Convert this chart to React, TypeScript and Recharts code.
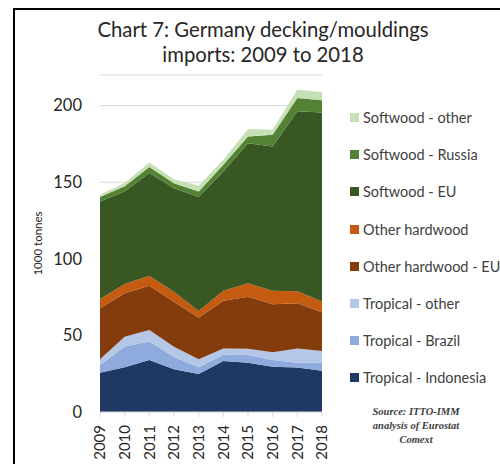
import React from 'react';
import { AreaChart, Area, XAxis, YAxis, CartesianGrid, Legend } from 'recharts';

const years = ['2009', '2010', '2011', '2012', '2013', '2014', '2015', '2016', '2017', '2018'];

// 1000 tonnes
const tropicalIndonesia = [25.7, 29.2, 34, 27.9, 24.8, 33.3, 32.2, 29.6, 29, 27];
const tropicalBrazil = [5, 13.5, 12, 8, 4.4, 4, 5, 4.4, 3.2, 5.2];
const tropicalOther = [3.7, 6.5, 7.6, 6.7, 5.2, 4.1, 4.1, 5, 9.2, 7.7];
const otherHardwoodEU = [33.4, 28.4, 28.8, 29.4, 27.2, 31.3, 34, 31.4, 29.6, 25.3];
const otherHardwood = [5.9, 5.9, 6.5, 6.5, 4.4, 6.4, 8.7, 8.7, 7.9, 6.9];
const softwoodEU = [63.8, 60.5, 67.1, 67.6, 74.3, 77.9, 91.5, 94.3, 117.4, 123.5];
const softwoodRussia = [2.8, 3.3, 3.9, 3.3, 3.7, 4.4, 4.3, 7.6, 8.7, 7.9];
const softwoodOther = [1.5, 2.2, 3, 2.6, 3.7, 3.3, 4.9, 3.3, 5.5, 5.2];

const yTicks = [0, 50, 100, 150, 200];

const series = [
  { key: 'Tropical - Indonesia', values: tropicalIndonesia, color: '#203864' },
  { key: 'Tropical - Brazil', values: tropicalBrazil, color: '#8faadc' },
  { key: 'Tropical - other', values: tropicalOther, color: '#b4c7e7' },
  { key: 'Other hardwood - EU', values: otherHardwoodEU, color: '#843c0c' },
  { key: 'Other hardwood', values: otherHardwood, color: '#c55a11' },
  { key: 'Softwood - EU', values: softwoodEU, color: '#385723' },
  { key: 'Softwood - Russia', values: softwoodRussia, color: '#548235' },
  { key: 'Softwood - other', values: softwoodOther, color: '#c5e0b4' },
];

const data = years.map((name, i) => {
  const row: { [k: string]: string | number } = { name };
  series.forEach((s) => {
    row[s.key] = s.values[i];
  });
  return row;
});

const FONT = 'Lato, "Open Sans", sans-serif';

const YearTick = (props: any) => {
  const { x, y, payload } = props;
  return (
    <text
      transform={`translate(${x},${y + 6}) rotate(-90)`}
      textAnchor="end"
      dy="0.35em"
      fontSize={15}
      fontFamily={FONT}
      fill="#262626"
    >
      {payload.value}
    </text>
  );
};

const LegendList = () => (
  <div style={{ fontFamily: FONT, fontSize: 14.5, color: '#404040' }}>
    {[...series].reverse().map((s) => (
      <div
        key={s.key}
        style={{ height: 37.2, display: 'flex', alignItems: 'center', whiteSpace: 'nowrap' }}
      >
        <span
          style={{ width: 9, height: 9, background: s.color, display: 'inline-block', marginRight: 4 }}
        />
        {s.key}
      </div>
    ))}
  </div>
);

export default function App() {
  return (
    <div
      style={{
        position: 'absolute',
        left: 0,
        top: 0,
        width: 500,
        height: 464,
        overflow: 'hidden',
        background: '#fff',
      }}
    >
      <div
        style={{
          position: 'absolute',
          left: 13,
          top: 8,
          width: 500,
          height: 470,
          borderLeft: '2px solid #000',
          borderTop: '2px solid #000',
        }}
      />
      <div
        style={{
          position: 'absolute',
          left: 70,
          top: 17,
          width: 386,
          textAlign: 'center',
          fontFamily: FONT,
          fontSize: 20.3,
          lineHeight: '25px',
          color: '#262626',
        }}
      >
        Chart 7: Germany decking/mouldings
        <br />
        imports: 2009 to 2018
      </div>
      <div style={{ position: 'absolute', left: 0, top: 0 }}>
        <AreaChart
          width={500}
          height={464}
          data={data}
          margin={{ top: 75, right: 178, bottom: 2, left: 0 }}
        >
          <CartesianGrid vertical={false} stroke="#d9d9d9" />
          <XAxis
            dataKey="name"
            height={50}
            axisLine={{ stroke: '#d9d9d9' }}
            tickLine={{ stroke: '#d9d9d9' }}
            tickSize={5}
            interval={0}
            tick={<YearTick />}
          />
          <YAxis
            width={100}
            domain={[0, 220]}
            ticks={yTicks}
            axisLine={false}
            tickLine={false}
            tickMargin={12}
            tick={{ fontSize: 16.5, fontFamily: FONT, fill: '#262626' }}
            label={{
              value: '1000 tonnes',
              angle: -90,
              position: 'insideLeft',
              offset: 38,
              style: { textAnchor: 'middle', fontSize: 11.5, fontFamily: FONT, fill: '#262626' },
            }}
          />
          <Legend
            layout="vertical"
            align="center"
            verticalAlign="middle"
            content={<LegendList />}
            wrapperStyle={{ left: 350, top: 99, width: 170 }}
          />
          {series.map((s) => (
            <Area
              key={s.key}
              type="linear"
              dataKey={s.key}
              stackId="1"
              stroke="none"
              fill={s.color}
              fillOpacity={1}
              isAnimationActive={false}
            />
          ))}
        </AreaChart>
      </div>
      <div
        style={{
          position: 'absolute',
          left: 356,
          top: 405,
          width: 120,
          textAlign: 'center',
          fontFamily: '"Liberation Serif", serif',
          fontStyle: 'italic',
          fontWeight: 'bold',
          fontSize: 10.5,
          lineHeight: '14px',
          color: '#404040',
        }}
      >
        Source: ITTO-IMM
        <br />
        analysis of Eurostat
        <br />
        Comext
      </div>
    </div>
  );
}
